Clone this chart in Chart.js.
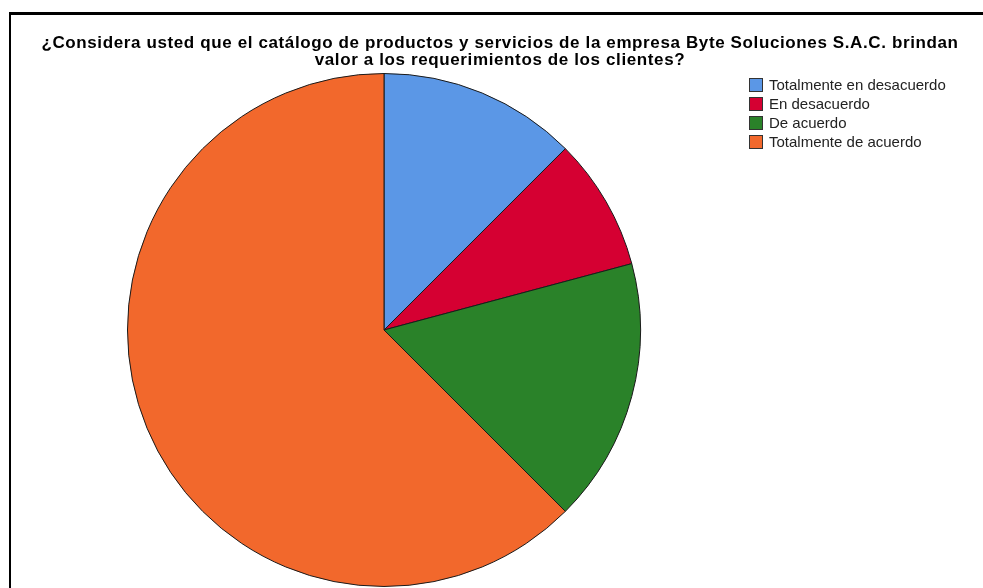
<!DOCTYPE html>
<html lang="es">
<head>
    <meta charset="UTF-8">
    <title>Catálogo de productos y servicios - Byte Soluciones S.A.C.</title>
    <script src="https://cdn.jsdelivr.net/npm/chart.js"></script>
    <style>
        html, body { margin: 0; padding: 0; background: #fff; overflow: hidden; font-family: 'Liberation Sans', Arial, sans-serif; }
        .marco {
            position: absolute;
            left: 9px;
            top: 12px;
            width: 1000px;
            height: 600px;
            border-top: 3px solid #000;
            border-left: 2px solid #000;
        }
        #graficoPie { position: absolute; left: 0; top: 0; }
        .titulo {
            position: absolute;
            left: 0;
            top: 34px;
            width: 1000px;
            text-align: center;
            font-weight: bold;
            font-size: 17px;
            letter-spacing: 0.62px;
            line-height: 17px;
            color: #000;
        }
        .leyenda {
            position: absolute;
            left: 749px;
            top: 75px;
        }
        .leyenda div {
            height: 19px;
            line-height: 19px;
            font-size: 15px;
            color: #222;
            white-space: nowrap;
        }
        .leyenda span {
            display: inline-block;
            width: 12px;
            height: 12px;
            border: 1px solid #333;
            margin-right: 6px;
            vertical-align: -2px;
        }
    </style>
</head>
<body>
    <div class="marco"></div>
    <canvas id="graficoPie" width="1000" height="600"></canvas>
    <div class="titulo" id="titulo"></div>
    <div class="leyenda" id="leyenda"></div>

    <script>
    // respuestas de la encuesta
    const categorias = ['Totalmente en desacuerdo', 'En desacuerdo', 'De acuerdo', 'Totalmente de acuerdo'];
    const frecuencias = [3, 2, 4, 15];
    const colores = ['#5B97E6', '#D50032', '#2A8229', '#F2682C'];
    const titulo = [
        '¿Considera usted que el catálogo de productos y servicios de la empresa Byte Soluciones S.A.C. brindan',
        'valor a los requerimientos de los clientes?'
    ];

    document.getElementById('titulo').innerHTML = titulo.join('<br>');

    // leyenda armada con las mismas categorias y colores
    const leyenda = document.getElementById('leyenda');
    categorias.forEach((cat, i) => {
        const fila = document.createElement('div');
        const cuadro = document.createElement('span');
        cuadro.style.background = colores[i];
        fila.appendChild(cuadro);
        fila.appendChild(document.createTextNode(cat));
        leyenda.appendChild(fila);
    });

    const ctx = document.getElementById('graficoPie').getContext('2d');
    const chart = new Chart(ctx, {
        type: 'pie',
        data: {
            labels: categorias,
            datasets: [{
                data: frecuencias,
                backgroundColor: colores,
                borderColor: '#1a1a1a',
                borderWidth: 1
            }]
        },
        options: {
            responsive: false,
            animation: false,
            layout: {
                padding: { left: 127, right: 359, top: 73, bottom: 13 }
            },
            plugins: {
                title: { display: false },
                legend: { display: false },
                tooltip: { enabled: false }
            }
        }
    });
    </script>
</body>
</html>
